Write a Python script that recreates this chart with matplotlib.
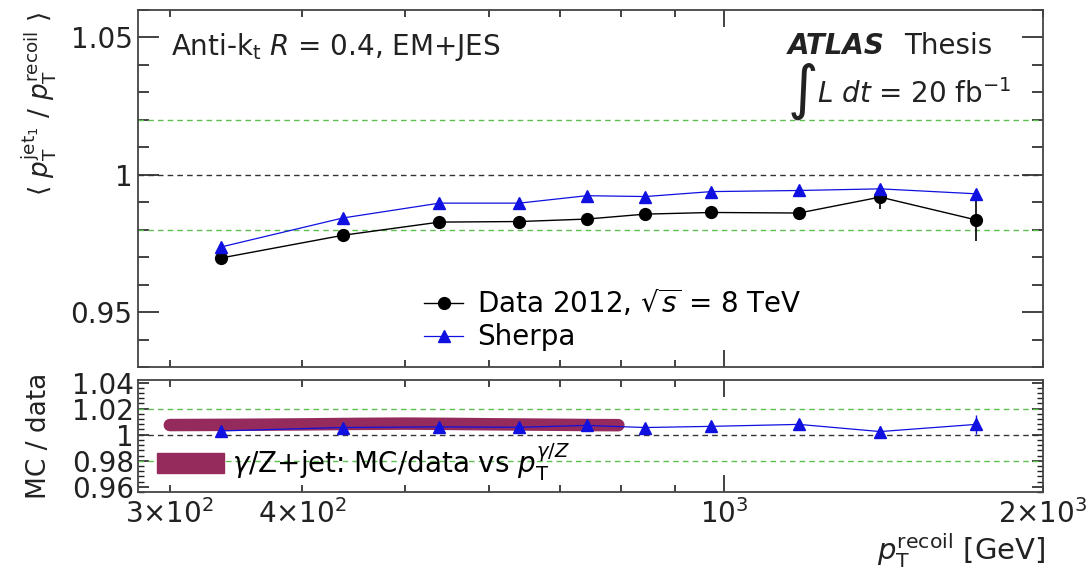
import matplotlib
matplotlib.use("Agg")
import matplotlib.pyplot as plt
import numpy as np
from matplotlib.patches import Rectangle
from matplotlib.lines import Line2D

plt.rcParams['font.family'] = ['DejaVu Sans']
plt.rcParams['mathtext.fontset'] = 'dejavusans'

# pT recoil bin centres [GeV]
pt = [335, 437, 539, 641, 742, 843, 973, 1177, 1404, 1729]

# <pT jet1 / pT recoil>
data_resp = [0.9697, 0.9780, 0.9828, 0.9830, 0.9839, 0.9857, 0.9863, 0.9861, 0.9919, 0.9836]
data_err = [0.0008, 0.0008, 0.0008, 0.0008, 0.0009, 0.0010, 0.0011, 0.0014, 0.0045, 0.0078]
sherpa_resp = [0.9737, 0.9843, 0.9897, 0.9897, 0.9924, 0.9921, 0.9939, 0.9943, 0.9949, 0.9931]

# MC / data
ratio = [1.0029, 1.0055, 1.0060, 1.0057, 1.0071, 1.0055, 1.0064, 1.0079, 1.0024, 1.0079]
ratio_err = [0.0008, 0.0008, 0.0008, 0.0008, 0.0009, 0.0010, 0.0011, 0.0014, 0.0045, 0.0075]

# gamma/Z+jet MC/data curve
gz_pt = [300, 350, 400, 450, 500, 550, 600, 650, 700, 750, 795]
gz_ratio = [1.0074, 1.0076, 1.0079, 1.0083, 1.0085, 1.0083, 1.0080, 1.0078, 1.0076, 1.0074, 1.0073]

green = '#5cbf4f'
maroon = '#952b5d'
blue = '#1010e0'
txt = '#222222'
fs = 20

fig = plt.figure(figsize=(10.87, 5.71), dpi=100)
ax = fig.add_axes([0.127, 0.357, 0.8325, 0.6255])
axr = fig.add_axes([0.127, 0.1384, 0.8325, 0.1961])

for a in (ax, axr):
    a.set_xscale('log')
    a.set_xlim(280, 2000)
    a.xaxis.set_major_locator(matplotlib.ticker.FixedLocator([1000]))
    a.xaxis.set_minor_locator(matplotlib.ticker.FixedLocator([300, 400, 500, 600, 700, 800, 900, 2000]))
    a.xaxis.set_major_formatter(matplotlib.ticker.NullFormatter())
    a.xaxis.set_minor_formatter(matplotlib.ticker.NullFormatter())
    a.tick_params(which='both', direction='in', top=True, right=True, labelsize=fs, colors=txt)
    a.tick_params(axis='x', which='major', length=12, width=1.2)
    a.tick_params(axis='x', which='minor', length=5, width=1.2)
    for s in a.spines.values():
        s.set_linewidth(1.3)
        s.set_color('#444444')

# ---- top panel ----
ax.set_ylim(0.93, 1.06)
ax.set_yticks([0.95, 1.0, 1.05])
ax.set_yticklabels(['0.95', '1', '1.05'])
ax.set_yticks(np.arange(0.93, 1.0601, 0.01), minor=True)
ax.tick_params(axis='y', which='major', length=15, width=1.2, pad=4)
ax.tick_params(axis='y', which='minor', length=8, width=1.2)

ax.axhline(1.0, color='#333333', ls=(0, (4, 3)), lw=1.0)
ax.axhline(1.02, color=green, ls=(0, (4, 3)), lw=1.0)
ax.axhline(0.98, color=green, ls=(0, (4, 3)), lw=1.0)

ax.errorbar(pt, data_resp, yerr=data_err, color='black', marker='o', ms=8.5, lw=1.0,
            elinewidth=1.2, capsize=0, zorder=3)
ax.plot(pt, sherpa_resp, color=blue, marker='^', ms=8, lw=0.9, zorder=4)

ax.text(0.036, 0.895, r'Anti-k$_\mathrm{t}$ $R$ = 0.4, EM+JES', transform=ax.transAxes,
        fontsize=fs, va='center', ha='left', color=txt)
ax.text(0.718, 0.90, 'ATLAS', transform=ax.transAxes, fontsize=fs, fontweight='bold',
        fontstyle='italic', va='center', ha='left', color=txt)
ax.text(0.847, 0.90, 'Thesis', transform=ax.transAxes, fontsize=fs,
        va='center', ha='left', color=txt)
ax.text(0.717, 0.77, r'$\int$', transform=ax.transAxes, fontsize=30, va='center', ha='left',
        color=txt)
ax.text(0.75, 0.765, r'$L\ dt$ = 20 fb$^{-1}$', transform=ax.transAxes,
        fontsize=fs, va='center', ha='left', color=txt)

h_data = Line2D([], [], color='black', marker='o', ms=8.5, lw=1.0)
h_sh = Line2D([], [], color=blue, marker='^', ms=8, lw=0.9)
ax.legend([h_data, h_sh], [r'Data 2012, $\sqrt{s}$ = 8 TeV', 'Sherpa'],
          loc='lower left', bbox_to_anchor=(0.295, -0.01), frameon=False, fontsize=fs,
          handlelength=1.4, handletextpad=0.5, labelspacing=0.15, borderaxespad=0.3)

fig.text(0.036, 0.98, r'$\langle\ p_{\mathrm{T}}^{\mathrm{jet}_1}\ /\ p_{\mathrm{T}}^{\mathrm{recoil}}\ \rangle$',
         rotation=90, ha='center', va='top', fontsize=19, color=txt)

# ---- ratio panel ----
axr.set_ylim(0.956, 1.042)
axr.set_yticks([0.96, 0.98, 1.0, 1.02, 1.04])
axr.set_yticklabels(['0.96', '0.98', '1', '1.02', '1.04'])
axr.set_yticks(np.arange(0.956, 1.042, 0.004), minor=True)
axr.tick_params(axis='y', which='major', length=8, width=1.2, pad=3)
axr.tick_params(axis='y', which='minor', length=4, width=1.0)

axr.axhline(1.0, color='#333333', ls=(0, (4, 3)), lw=1.0)
axr.axhline(1.02, color=green, ls=(0, (4, 3)), lw=1.0)
axr.axhline(0.98, color=green, ls=(0, (4, 3)), lw=1.0)

axr.plot(gz_pt, gz_ratio, color=maroon, lw=9, solid_capstyle='round', zorder=2)
axr.errorbar(pt, ratio, yerr=ratio_err, color=blue, marker='^', ms=8, lw=0.9,
             elinewidth=1.0, capsize=0, zorder=3)

h_gz = Rectangle((0, 0), 1, 1, color=maroon)
axr.legend([h_gz], [r'$\gamma$/Z+jet: MC/data vs $p_{\mathrm{T}}^{\gamma/Z}$'],
           loc='lower left', bbox_to_anchor=(0.0, -0.09), frameon=False, fontsize=fs,
           handlelength=2.4, handleheight=0.7, handletextpad=0.3, borderaxespad=0.3)

axr.set_xticks([300, 400, 500, 600, 700, 800, 900, 2000],
               labels=[r'3$\times$10$^2$', r'4$\times$10$^2$', '', '', '', '', '', r'2$\times$10$^3$'],
               minor=True)
axr.set_xticks([1000], labels=[r'10$^3$'])
axr.tick_params(axis='x', which='both', pad=5, labelsize=fs)

fig.text(0.036, 0.236, 'MC / data', rotation=90, ha='center', va='center', fontsize=19, color=txt)
fig.text(0.962, 0.035, r'$p_{\mathrm{T}}^{\mathrm{recoil}}$ [GeV]', ha='right', va='center',
         fontsize=21, color=txt)

fig.savefig('out.png', dpi=100)
